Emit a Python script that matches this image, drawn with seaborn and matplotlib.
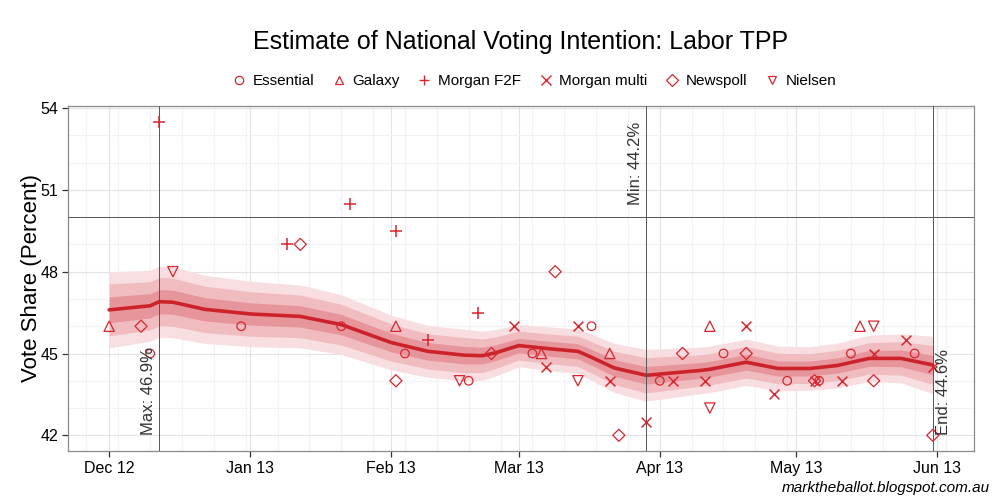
import matplotlib
matplotlib.use("Agg")
import matplotlib.pyplot as plt
import matplotlib.dates as mdates
from matplotlib.lines import Line2D
import numpy as np
import pandas as pd
import seaborn as sns

# trend estimate (median) and half width of the widest band
trend_dates = ["2012-12-01", "2012-12-10", "2012-12-12", "2012-12-15", "2012-12-22",
               "2013-01-01", "2013-01-12", "2013-01-21", "2013-02-01", "2013-02-09",
               "2013-02-17", "2013-02-21", "2013-02-24", "2013-03-01", "2013-03-08",
               "2013-03-14", "2013-03-17", "2013-03-22", "2013-03-29", "2013-04-10",
               "2013-04-12", "2013-04-20", "2013-04-27", "2013-05-04", "2013-05-10",
               "2013-05-17", "2013-05-24", "2013-05-31"]
trend_median = [46.6, 46.75, 46.9, 46.88, 46.62,
                46.45, 46.36, 46.06, 45.4, 45.08,
                44.94, 44.92, 45.03, 45.29, 45.17,
                45.08, 44.86, 44.47, 44.2, 44.38,
                44.42, 44.68, 44.45, 44.45, 44.56,
                44.82, 44.82, 44.58]
trend_hw = [1.4, 1.3, 1.3, 1.3, 1.25,
            1.2, 1.15, 1.1, 1.0, 0.95,
            0.95, 0.9, 0.85, 0.78, 0.8,
            0.82, 0.85, 0.9, 0.95, 0.85,
            0.85, 0.85, 0.82, 0.8, 0.82,
            0.85, 0.9, 1.05]
band_scale = [1.0, 0.68, 0.34]

# polls by house
essential_dates = ["2012-12-10", "2012-12-30", "2013-01-21", "2013-02-04", "2013-02-18",
                   "2013-03-04", "2013-03-17", "2013-04-01", "2013-04-15", "2013-04-29",
                   "2013-05-06", "2013-05-13", "2013-05-27"]
essential_vote = [45, 46, 46, 45, 44, 45, 46, 44, 45, 44, 44, 45, 45]

galaxy_dates = ["2012-12-01", "2013-02-02", "2013-03-06", "2013-03-21", "2013-04-12", "2013-05-15"]
galaxy_vote = [46, 46, 45, 45, 46, 46]

morgan_f2f_dates = ["2012-12-12", "2013-01-09", "2013-01-23", "2013-02-02", "2013-02-09", "2013-02-20"]
morgan_f2f_vote = [53.5, 49, 50.5, 49.5, 45.5, 46.5]

morgan_multi_dates = ["2013-02-28", "2013-03-07", "2013-03-14", "2013-03-21", "2013-03-29",
                      "2013-04-04", "2013-04-11", "2013-04-20", "2013-04-26", "2013-05-05",
                      "2013-05-11", "2013-05-18", "2013-05-25", "2013-05-31"]
morgan_multi_vote = [46, 44.5, 46, 44, 42.5, 44, 44, 46, 43.5, 44, 44, 45, 45.5, 44.5]

newspoll_dates = ["2012-12-08", "2013-01-12", "2013-02-02", "2013-02-23", "2013-03-09",
                  "2013-03-23", "2013-04-06", "2013-04-20", "2013-05-05", "2013-05-18", "2013-05-31"]
newspoll_vote = [46, 49, 44, 45, 48, 42, 45, 45, 44, 44, 42]

nielsen_dates = ["2012-12-15", "2013-02-16", "2013-03-14", "2013-04-12", "2013-05-18"]
nielsen_vote = [48, 44, 44, 43, 46]

houses = ["Essential", "Galaxy", "Morgan F2F", "Morgan multi", "Newspoll", "Nielsen"]
house_markers = ["o", "^", "+", "x", "D", "v"]
house_sizes = [38, 55, 80, 50, 38, 55]

red = "#CC2229"
point_red = "#D7262E"
band_colors = ["#F8DEE0", "#F0BCC0", "#E6959B"]

trend = pd.DataFrame({"date": pd.to_datetime(trend_dates),
                      "median": trend_median, "hw": trend_hw})
polls = pd.concat([
    pd.DataFrame({"house": h, "date": pd.to_datetime(d), "vote": v})
    for h, d, v in zip(houses,
                       [essential_dates, galaxy_dates, morgan_f2f_dates,
                        morgan_multi_dates, newspoll_dates, nielsen_dates],
                       [essential_vote, galaxy_vote, morgan_f2f_vote,
                        morgan_multi_vote, newspoll_vote, nielsen_vote])
], ignore_index=True)

sns.set_theme(style="whitegrid")
plt.rcParams['font.family'] = ['Liberation Sans', 'DejaVu Sans']
plt.rcParams['text.color'] = 'black'
plt.rcParams['axes.labelcolor'] = 'black'

fig, ax = plt.subplots(figsize=(10, 5), dpi=100)
fig.subplots_adjust(left=0.068, right=0.974, bottom=0.098, top=0.788)

# credible bands
for scale, col in zip(band_scale, band_colors):
    ax.fill_between(trend["date"], trend["median"] - trend["hw"] * scale,
                    trend["median"] + trend["hw"] * scale, color=col, lw=0, zorder=2)
sns.lineplot(data=trend, x="date", y="median", color=red, lw=2.6, ax=ax, zorder=3)

# poll points
for h, m, s in zip(houses, house_markers, house_sizes):
    sub = polls[polls["house"] == h]
    if m in ["+", "x"]:
        sns.scatterplot(data=sub, x="date", y="vote", marker=m, s=s, color=point_red,
                        edgecolor=point_red, linewidth=1.1, ax=ax, legend=False, zorder=4)
    else:
        sns.scatterplot(data=sub, x="date", y="vote", marker=m, s=s, color=point_red,
                        facecolor="none", edgecolor=point_red, linewidth=0.9, ax=ax,
                        legend=False, zorder=4)

# max / min / end reference lines
i_max = trend["median"].idxmax()
i_min = trend["median"].idxmin()
i_end = len(trend) - 1
y_lo, y_hi = polls["vote"].min(), polls["vote"].max()
line_kw = dict(color="#555555", lw=0.7, zorder=3.5)
ax.axhline(50, **line_kw)
for i in [i_max, i_min, i_end]:
    ax.axvline(trend["date"][i], **line_kw)
ax.annotate("Max: %.1f%%" % trend["median"][i_max], xy=(trend["date"][i_max], y_lo),
            xytext=(-2, 0), textcoords="offset points", rotation=90, ha="right",
            va="bottom", fontsize=12, color="#333333", zorder=5)
ax.annotate("Min: %.1f%%" % trend["median"][i_min], xy=(trend["date"][i_min], y_hi),
            xytext=(-2, 0), textcoords="offset points", rotation=90, ha="right",
            va="top", fontsize=12, color="#333333", zorder=5)
ax.annotate("End: %.1f%%" % trend["median"][i_end], xy=(trend["date"][i_end], y_lo),
            xytext=(2, 0), textcoords="offset points", rotation=90, ha="left",
            va="bottom", fontsize=12, color="#333333", zorder=5)

# limits with 5% expansion
x0 = mdates.date2num(min(polls["date"].min(), trend["date"].min()))
x1 = mdates.date2num(max(polls["date"].max(), trend["date"].max()))
pad = 0.05 * (x1 - x0)
ax.set_xlim(x0 - pad, x1 + pad)
ypad = 0.05 * (y_hi - y_lo)
ax.set_ylim(y_lo - ypad, y_hi + ypad)

ax.set_yticks([42, 45, 48, 51, 54])
ax.set_yticks(np.arange(42, 55, 1), minor=True)
ax.xaxis.set_major_locator(mdates.MonthLocator())
ax.xaxis.set_major_formatter(mdates.DateFormatter("%b %y"))
ax.xaxis.set_minor_locator(mdates.WeekdayLocator(byweekday=mdates.MO))

ax.grid(which="major", color="#E3E3E3", lw=0.8)
ax.grid(which="minor", color="#F2F2F2", lw=0.8)
ax.set_axisbelow(True)
for sp in ax.spines.values():
    sp.set_color("#8A8A8A")
    sp.set_linewidth(0.9)
ax.tick_params(which="major", bottom=True, left=True, length=4, width=0.9,
               color="#333333", labelsize=11.5, labelcolor="black", pad=3)
ax.tick_params(which="minor", length=0)

ax.set_xlabel("")
ax.set_ylabel("Vote Share (Percent)", fontsize=16, labelpad=-1)

fig.text(0.521, 0.916, "Estimate of National Voting Intention: Labor TPP",
         ha="center", va="center", fontsize=18, color="black")

handles = []
for h, m in zip(houses, house_markers):
    if m in ["+", "x"]:
        handles.append(Line2D([], [], marker=m, ls="none", color=point_red,
                              markersize=7, markeredgewidth=1))
    else:
        handles.append(Line2D([], [], marker=m, ls="none", markerfacecolor="none",
                              markeredgecolor=point_red, markersize=6, markeredgewidth=0.9))
fig.legend(handles, houses, loc="center", bbox_to_anchor=(0.533, 0.838), ncol=6,
           frameon=False, fontsize=11, handletextpad=0.3, columnspacing=1.0,
           handlelength=1.2)

fig.text(0.99, 0.024, "marktheballot.blogspot.com.au", ha="right", va="center",
         fontsize=11, style="italic", color="black")

fig.savefig("out.png", dpi=100)
